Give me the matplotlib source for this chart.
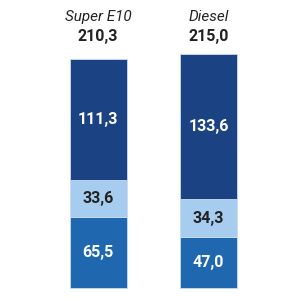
import matplotlib.pyplot as plt
import numpy as np

categories = ['Super E10', 'Diesel']
totals = ['210,3', '215,0']
bottom_vals = [65.5, 47.0]
middle_vals = [33.6, 34.3]
top_vals = [111.3, 133.6]

colors = ['#1f68b0', '#a6cdef', '#1b4282']
text_colors = ['white', '#222222', 'white']

plt.rcParams['font.family'] = ['Roboto', 'DejaVu Sans']

fig = plt.figure(figsize=(3, 3), dpi=100)
ax = fig.add_axes([0, 0, 1, 1])

x = np.arange(len(categories))
width = 0.516
base = np.zeros(len(categories))
for vals, c, tc in zip([bottom_vals, middle_vals, top_vals], colors, text_colors):
    vals = np.array(vals)
    ax.bar(x, vals, width, bottom=base, color=c, edgecolor='#c9dcef', linewidth=0.6)
    for xi, b, v in zip(x, base, vals):
        ax.text(xi, b + v / 2, f'{v:.1f}'.replace('.', ','), ha='center', va='center',
                color=tc, fontsize=11.5, fontweight='bold')
    base += vals

for xi, cat, tot in zip(x, categories, totals):
    ax.text(xi, 0.943, cat, transform=ax.get_xaxis_transform(), ha='center', va='center',
            fontsize=11, style='italic', color='#222222')
    ax.text(xi, 0.88, tot, transform=ax.get_xaxis_transform(), ha='center', va='center',
            fontsize=11.5, fontweight='bold', color='#222222')

ax.set_xlim(-0.887, 1.828)
ax.set_ylim(-11, 264.5)
ax.axis('off')

fig.savefig('out.png', dpi=100)
